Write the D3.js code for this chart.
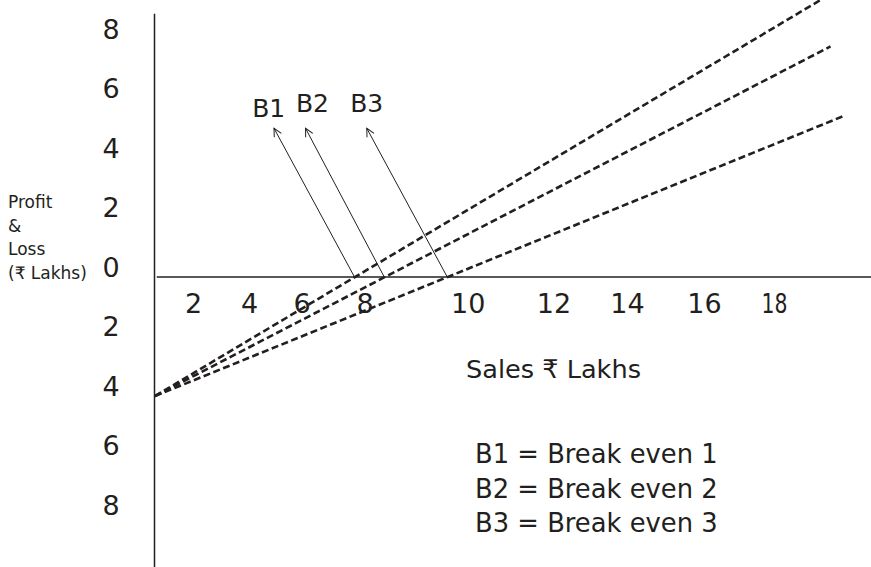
<!DOCTYPE html>
<html>
<head>
<meta charset="utf-8">
<script src="https://cdn.jsdelivr.net/npm/d3@7/dist/d3.min.js"></script>
<style>
  body { margin: 0; background: #fff; }
  text { font-family: "DejaVu Sans", sans-serif; fill: #231f20; }
</style>
</head>
<body>
<script>
// profit & loss ticks (drawn without sign, as in the picture)
var yTicks = [8, 6, 4, 2, 0, -2, -4, -6, -8];
// sales tick labels and where they sit along the sales axis
var xTickLabels = ["2", "4", "6", "8", "10", "12", "14", "16", "18"];
var xTickAt = [1.1, 2.7, 4.2, 6.0, 8.95, 11.4, 13.5, 15.7, 17.7];

var lineNames = ["B1", "B2", "B3"];
var fixedLoss = -4;                    // all lines start here at zero sales
var breakEven = [5.7, 6.55, 8.35];
var salesEnd = [19.0, 19.3, 19.65];
var profitEnd = [9.3, 7.75, 5.4];
// arrow tips and labels for B1..B3
var arrowTipX = [3.4, 4.3, 6.05], arrowTipY = 5.0;
var labelX = [3.25, 4.5, 6.05];
var labelY = [5.38, 5.55, 5.55];

var W = 871, H = 567, ink = "#231f20";

var x = d3.scaleLinear().domain([0, 20]).range([155, 855]);
var y = d3.scaleLinear().domain([0, 8]).range([277, 39]);

var svg = d3.select("body").append("svg")
    .attr("width", W)
    .attr("height", H);

svg.append("defs").append("marker")
    .attr("id", "head")
    .attr("markerUnits", "userSpaceOnUse")
    .attr("viewBox", "-10 -6 12 12")
    .attr("markerWidth", 12)
    .attr("markerHeight", 12)
    .attr("orient", "auto")
  .append("path")
    .attr("d", "M-8,-4L0,0L-8,4")
    .attr("fill", "none")
    .attr("stroke", ink)
    .attr("stroke-width", 1);

// axes
svg.append("line")
    .attr("x1", x(0) - 0.5).attr("x2", x(0) - 0.5)
    .attr("y1", y(8.85)).attr("y2", y(-9.8))
    .attr("stroke", ink).attr("stroke-width", 1.5);
svg.append("line")
    .attr("x1", x(0.05)).attr("x2", x(20.5))
    .attr("y1", y(0)).attr("y2", y(0))
    .attr("stroke", ink).attr("stroke-width", 1.5);

svg.selectAll(".ytick")
    .data(yTicks)
  .enter().append("text")
    .attr("class", "ytick")
    .attr("x", 111)
    .attr("y", function(d) { return y(d) - 10; })
    .attr("dy", "0.36em")
    .attr("text-anchor", "middle")
    .attr("font-size", 27)
    .text(function(d) { return Math.abs(d); });

svg.selectAll(".xtick")
    .data(xTickLabels)
  .enter().append("text")
    .attr("class", "xtick")
    .attr("x", function(d, i) { return x(xTickAt[i]); })
    .attr("y", 313)
    .attr("text-anchor", "middle")
    .attr("font-size", 27)
    .text(function(d) { return d; });

// the last label is set narrower in the original
svg.selectAll(".xtick").filter(function(d) { return d === "18"; })
    .attr("textLength", 26)
    .attr("lengthAdjust", "spacingAndGlyphs");

// cost-volume lines
var line = d3.line().x(function(d) { return x(d[0]); }).y(function(d) { return y(d[1]); });
svg.append("g")
  .selectAll("path")
    .data(lineNames)
  .enter().append("path")
    .attr("d", function(d, i) { return line([[0, fixedLoss], [salesEnd[i], profitEnd[i]]]); })
    .attr("fill", "none")
    .attr("stroke", ink)
    .attr("stroke-width", 2.6)
    .attr("stroke-dasharray", "7,3.5");

// arrows pointing to the break-even points
svg.append("g")
  .selectAll("line")
    .data(lineNames)
  .enter().append("line")
    .attr("x1", function(d, i) { return x(breakEven[i]); })
    .attr("y1", y(0))
    .attr("x2", function(d, i) { return x(arrowTipX[i]); })
    .attr("y2", y(arrowTipY))
    .attr("stroke", ink)
    .attr("stroke-width", 1)
    .attr("marker-end", "url(#head)");

svg.selectAll(".blabel")
    .data(lineNames)
  .enter().append("text")
    .attr("class", "blabel")
    .attr("x", function(d, i) { return x(labelX[i]); })
    .attr("y", function(d, i) { return y(labelY[i]); })
    .attr("text-anchor", "middle")
    .attr("font-size", 25)
    .text(function(d) { return d; });

// titles
svg.append("text")
    .attr("x", 466).attr("y", 378)
    .attr("font-size", 25.6)
    .text("Sales \u20b9 Lakhs");

var ylab = svg.append("text").attr("font-size", 17);
["Profit", "&", "Loss", "(\u20b9 Lakhs)"].forEach(function(t, i) {
  ylab.append("tspan").attr("x", 8).attr("y", 208 + i * 23.5).text(t);
});

svg.selectAll(".legend")
    .data(lineNames)
  .enter().append("text")
    .attr("class", "legend")
    .attr("x", 475)
    .attr("y", function(d, i) { return 463 + i * 34.5; })
    .attr("font-size", 25.8)
    .text(function(d, i) { return d + " = Break even " + (i + 1); });
</script>
</body>
</html>
